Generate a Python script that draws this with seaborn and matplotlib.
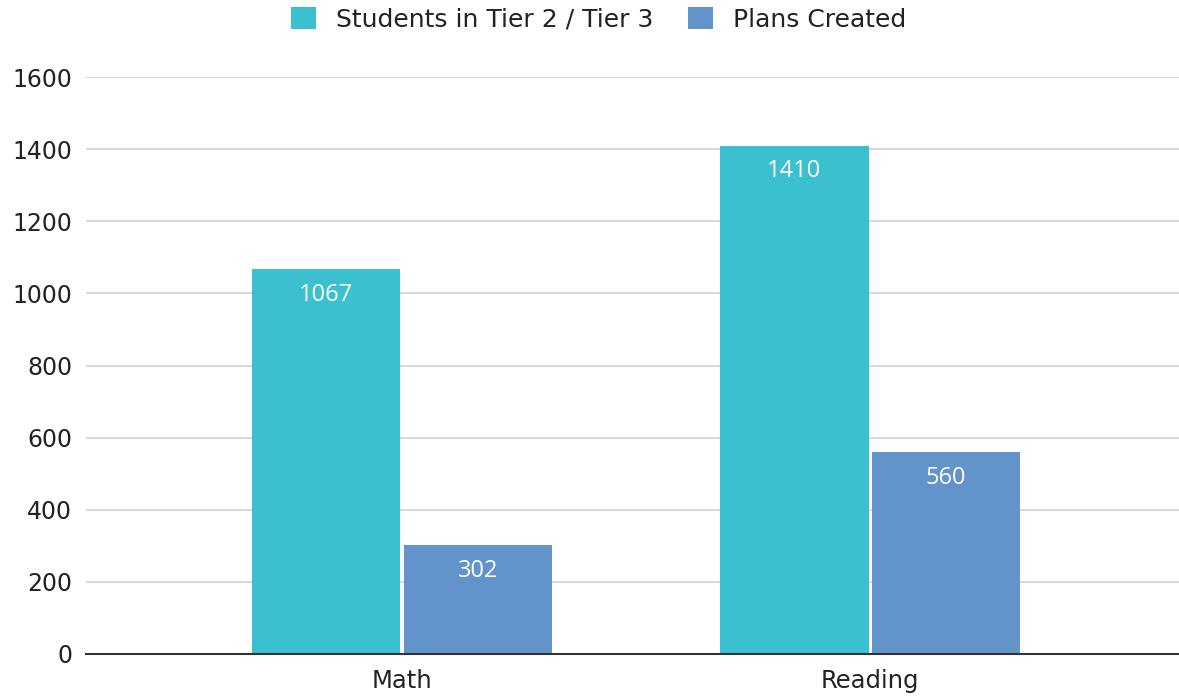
import matplotlib
matplotlib.use("Agg")
import matplotlib.pyplot as plt
import seaborn as sns
import pandas as pd

# Chart data
subjects = ["Math", "Reading"]
series_names = ["Students in Tier 2 / Tier 3", "Plans Created"]
students_tier = [1067, 1410]
plans_created = [302, 560]
y_ticks = [0, 200, 400, 600, 800, 1000, 1200, 1400, 1600]

colors = ["#3AC0CE", "#6293CB"]

df = pd.DataFrame({
    "subject": subjects * 2,
    "series": [series_names[0]] * len(subjects) + [series_names[1]] * len(subjects),
    "value": students_tier + plans_created,
})

sns.set_theme(style="white")
plt.rcParams["font.family"] = ["DejaVu Sans"]

fig = plt.figure(figsize=(11.79, 6.99), dpi=100)
ax = fig.add_axes([0.073, 0.0644, 0.927, 0.8254])

sns.barplot(data=df, x="subject", y="value", hue="series", hue_order=series_names,
            palette=colors, width=0.649, gap=0.02, saturation=1, ax=ax,
            legend=True, errorbar=None, linewidth=0)

ax.set_xlim(-0.675, 1.66)
ax.set_ylim(0, 1600)
ax.set_yticks(y_ticks)
ax.set_yticklabels([str(t) for t in y_ticks])
ax.yaxis.grid(True, color="#CCCCCC", linewidth=1.1)
ax.set_axisbelow(True)
ax.set_xlabel("")
ax.set_ylabel("")
for side in ["top", "right", "left"]:
    ax.spines[side].set_visible(False)
ax.spines["bottom"].set_color("#333333")
ax.spines["bottom"].set_linewidth(1.5)
ax.tick_params(axis="y", length=0, pad=10, labelsize=17, labelcolor="#222222")
ax.tick_params(axis="x", length=0, pad=11, labelsize=17.5, labelcolor="#222222")

# White value labels inside the top of each bar
for container in ax.containers:
    for bar in container:
        h = bar.get_height()
        ax.annotate(f"{int(round(h))}", (bar.get_x() + bar.get_width() / 2, h),
                    xytext=(0, -10), textcoords="offset points",
                    ha="center", va="top", color="white", fontsize=17,
                    family=["Open Sans", "DejaVu Sans"])

handles, labels = ax.get_legend_handles_labels()
ax.get_legend().remove()
fig.legend(handles, labels, loc="upper center", bbox_to_anchor=(0.508, 1.022),
           ncol=2, frameon=False, fontsize=18, handlelength=1.0, handleheight=1.0,
           columnspacing=1.4, handletextpad=0.8, labelcolor="#222222")

fig.savefig("out.png", dpi=100)
